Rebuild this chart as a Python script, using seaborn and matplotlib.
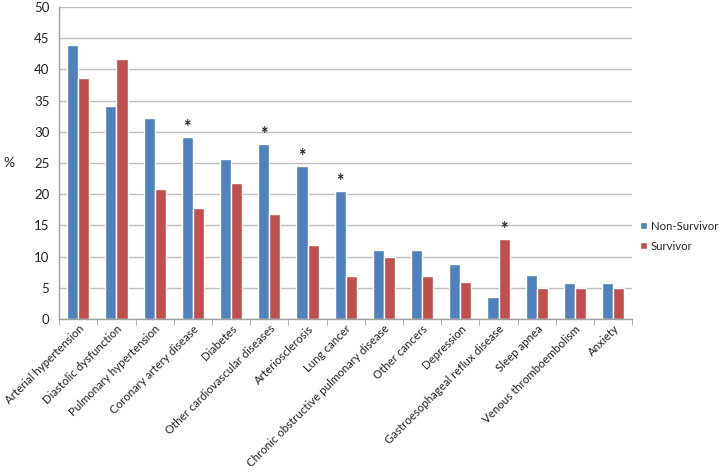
import pandas as pd
import matplotlib.pyplot as plt
import seaborn as sns
from matplotlib.ticker import FixedLocator

# -----------------------------
# Data
# -----------------------------
conditions = [
    "Arterial hypertension", "Diastolic dysfunction", "Pulmonary hypertension",
    "Coronary artery disease", "Diabetes", "Other cardiovascular diseases",
    "Arteriosclerosis", "Lung cancer", "Chronic obstructive pulmonary disease",
    "Other cancers", "Depression", "Gastroesophageal reflux disease",
    "Sleep apnea", "Venous thromboembolism", "Anxiety",
]
non_survivor = [43.9, 34.1, 32.2, 29.2, 25.7, 28.1, 24.6, 20.5, 11.1, 11.1, 8.8, 3.5, 7.0, 5.8, 5.8]
survivor = [38.6, 41.6, 20.8, 17.8, 21.8, 16.8, 11.9, 6.9, 9.9, 6.9, 5.9, 12.9, 5.0, 5.0, 5.0]

# significant differences: (condition, group whose bar gets the star)
stars = [
    ("Coronary artery disease", "Non-Survivor"),
    ("Other cardiovascular diseases", "Non-Survivor"),
    ("Arteriosclerosis", "Non-Survivor"),
    ("Lung cancer", "Non-Survivor"),
    ("Gastroesophageal reflux disease", "Survivor"),
]

df = pd.DataFrame({
    "condition": conditions * 2,
    "pct": non_survivor + survivor,
    "group": ["Non-Survivor"] * len(conditions) + ["Survivor"] * len(conditions),
})

# -----------------------------
# Plot
# -----------------------------
sns.set_style("white")
plt.rcParams['font.family'] = ['Lato', 'DejaVu Sans']

fig = plt.figure(figsize=(7.21, 4.72), dpi=100)
ax = fig.add_axes([0.082, 0.324, 0.795, 0.661])

sns.barplot(data=df, x="condition", y="pct", hue="group", order=conditions,
            palette={"Non-Survivor": "#4F81BD", "Survivor": "#C0504D"},
            width=0.58, saturation=1, ax=ax)

ax.set_ylim(0, 50)
ax.set_xlim(-0.5, len(conditions) - 0.5)
ax.set_yticks(range(0, 51, 5))
ax.yaxis.grid(True, color="#BFBFBF", linewidth=1)
ax.set_axisbelow(True)

for side in ["top", "right"]:
    ax.spines[side].set_visible(False)
for side in ["left", "bottom"]:
    ax.spines[side].set_color("#A0A0A0")
    ax.spines[side].set_linewidth(1)

ax.tick_params(axis="y", which="major", length=4, color="#A0A0A0", labelsize=9.5,
               labelcolor="#222222", pad=3)
ax.tick_params(axis="x", which="major", length=0, labelsize=8.3, labelcolor="#222222", pad=3)
ax.xaxis.set_minor_locator(FixedLocator([i - 0.5 for i in range(len(conditions) + 1)]))
ax.tick_params(axis="x", which="minor", length=4, color="#A0A0A0", bottom=True)

plt.setp(ax.get_xticklabels(), rotation=45, ha="right", rotation_mode="anchor")

ax.set_xlabel("")
ax.set_ylabel("%", rotation=0, fontsize=10, labelpad=18, va="center")

# asterisks above the significant bars
groups = ["Non-Survivor", "Survivor"]
for cond, grp in stars:
    bar = ax.containers[groups.index(grp)][conditions.index(cond)]
    ax.text(bar.get_x() + bar.get_width() / 2, bar.get_height() + 1.5, "*",
            ha="center", va="center", fontsize=13, fontweight="bold", color="#222222")

ax.legend(loc="center left", bbox_to_anchor=(1.010, 0.266), frameon=False,
          borderaxespad=0, borderpad=0.2, handlelength=0.6, handleheight=0.6,
          handletextpad=0.3, labelspacing=0.8, fontsize=8.2)

plt.savefig("out.png", dpi=100)
plt.close()
